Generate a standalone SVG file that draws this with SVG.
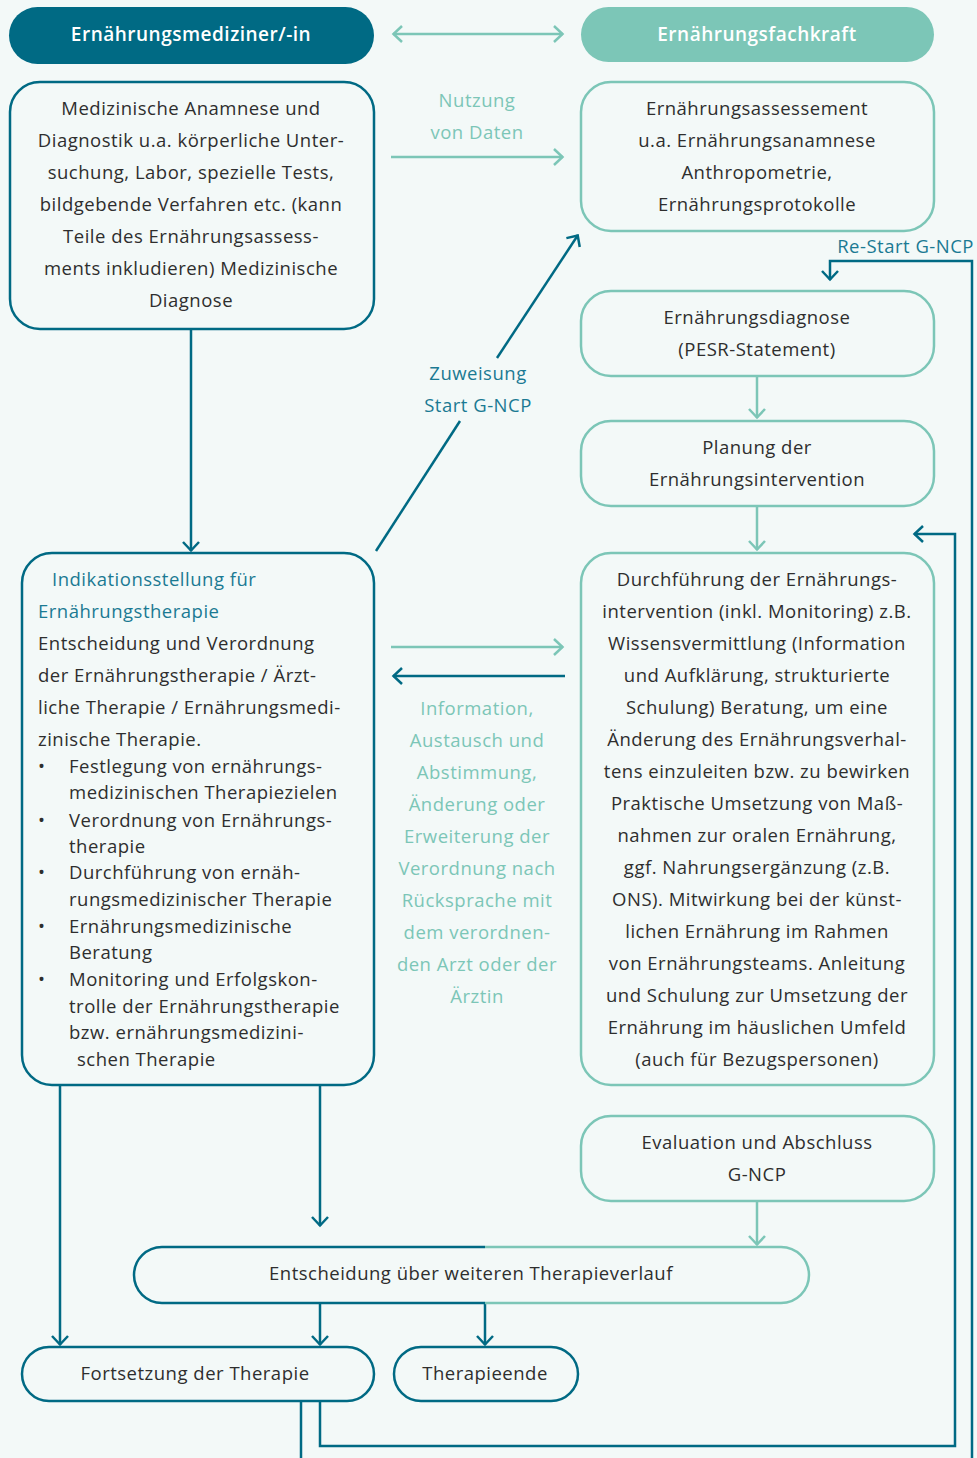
<svg xmlns="http://www.w3.org/2000/svg" width="977" height="1458" viewBox="0 0 977 1458">
<defs>
<style>
text{font-family:"Open Sans","Liberation Sans",sans-serif;font-size:18.5px;fill:#2e2e2e;letter-spacing:0.5px}
.c{text-anchor:middle}
.hd{fill:#ffffff;font-weight:600;font-size:19px}
.lt{fill:#7cc6b7}
.dk{fill:#1b7a93}
.bd{fill:none;stroke:#006a84;stroke-width:2.5}
.bl{fill:none;stroke:#7cc6b7;stroke-width:2.5}
.ld{fill:none;stroke:#006a84;stroke-width:2.5}
.ll{fill:none;stroke:#7cc6b7;stroke-width:2.5}
</style>
<marker id="ad" markerUnits="userSpaceOnUse" markerWidth="14" markerHeight="20" refX="11" refY="10" orient="auto-start-reverse">
<path d="M2,2 L10.5,10 L2,18" fill="none" stroke="#006a84" stroke-width="2.5"/>
</marker>
<marker id="al" markerUnits="userSpaceOnUse" markerWidth="14" markerHeight="20" refX="11" refY="10" orient="auto-start-reverse">
<path d="M2,2 L10.5,10 L2,18" fill="none" stroke="#7cc6b7" stroke-width="2.5"/>
</marker>
</defs>
<rect width="977" height="1458" fill="#f3f9f8"/>

<g id="connectors">
<line class="ll" x1="393" y1="34" x2="563" y2="34" marker-start="url(#al)" marker-end="url(#al)"/>
<line class="ll" x1="391" y1="157" x2="563" y2="157" marker-end="url(#al)"/>
<line class="ld" x1="191" y1="329" x2="191" y2="551" marker-end="url(#ad)"/>
<line class="ld" x1="376" y1="551" x2="460" y2="421"/>
<line class="ld" x1="497" y1="358" x2="578" y2="235" marker-end="url(#ad)"/>
<polyline class="ld" points="972,1458 972,261 830,261 830,280" marker-end="url(#ad)"/>
<line class="ll" x1="757" y1="376" x2="757" y2="418" marker-end="url(#al)"/>
<line class="ll" x1="757" y1="506" x2="757" y2="550" marker-end="url(#al)"/>
<line class="ll" x1="391" y1="647" x2="563" y2="647" marker-end="url(#al)"/>
<line class="ld" x1="565" y1="676" x2="393" y2="676" marker-end="url(#ad)"/>
<line class="ll" x1="757" y1="1201" x2="757" y2="1245" marker-end="url(#al)"/>
<line class="ld" x1="320" y1="1085" x2="320" y2="1226" marker-end="url(#ad)"/>
<line class="ld" x1="60" y1="1085" x2="60" y2="1345" marker-end="url(#ad)"/>
<line class="ld" x1="320" y1="1303" x2="320" y2="1345" marker-end="url(#ad)"/>
<line class="ld" x1="485" y1="1303" x2="485" y2="1345" marker-end="url(#ad)"/>
<line class="ld" x1="301" y1="1401" x2="301" y2="1458"/>
<polyline class="ld" points="320,1401 320,1446 955,1446 955,534 914,534" marker-end="url(#ad)"/>
</g>

<g id="hdr-left">
<rect x="9" y="7" width="365" height="57" rx="28.5" fill="#006a84"/>
<text class="c hd" x="191" y="41">Ernährungsmediziner/-in</text>
</g>
<g id="hdr-right">
<rect x="581" y="7" width="353" height="55" rx="27.5" fill="#7cc6b7"/>
<text class="c hd" x="757" y="40.5">Ernährungsfachkraft</text>
</g>

<g id="n-anamnese">
<rect class="bd" x="10" y="82" width="364" height="247" rx="30"/>
<text class="c" x="191" y="114.5">Medizinische Anamnese und</text>
<text class="c" x="191" y="146.5">Diagnostik u.a. körperliche Unter-</text>
<text class="c" x="191" y="178.5">suchung, Labor, spezielle Tests,</text>
<text class="c" x="191" y="210.5">bildgebende Verfahren etc. (kann</text>
<text class="c" x="191" y="242.5">Teile des Ernährungsassess-</text>
<text class="c" x="191" y="274.5">ments inkludieren) Medizinische</text>
<text class="c" x="191" y="306.5">Diagnose</text>
</g>

<g id="lbl-nutzung">
<text class="c lt" x="477" y="106.5">Nutzung</text>
<text class="c lt" x="477" y="138.5">von Daten</text>
</g>

<g id="n-assessment">
<rect class="bl" x="581" y="82" width="353" height="149" rx="30"/>
<text class="c" x="757" y="114.5">Ernährungsassessement</text>
<text class="c" x="757" y="146.5">u.a. Ernährungsanamnese</text>
<text class="c" x="757" y="178.5">Anthropometrie,</text>
<text class="c" x="757" y="210.5">Ernährungsprotokolle</text>
</g>

<g id="lbl-restart">
<text class="dk" x="974" y="252.5" text-anchor="end">Re-Start G-NCP</text>
</g>

<g id="lbl-zuweisung">
<text class="c dk" x="478" y="379.5">Zuweisung</text>
<text class="c dk" x="478" y="411.5">Start G-NCP</text>
</g>

<g id="n-diagnose">
<rect class="bl" x="581" y="291" width="353" height="85" rx="30"/>
<text class="c" x="757" y="323.5">Ernährungsdiagnose</text>
<text class="c" x="757" y="355.5">(PESR-Statement)</text>
</g>

<g id="n-planung">
<rect class="bl" x="581" y="421" width="353" height="85" rx="30"/>
<text class="c" x="757" y="453.5">Planung der</text>
<text class="c" x="757" y="485.5">Ernährungsintervention</text>
</g>

<g id="n-indikation">
<rect class="bd" x="22" y="553" width="352" height="532" rx="30"/>
<text class="dk" x="52" y="585.5">Indikationsstellung für</text>
<text class="dk" x="38" y="617.5">Ernährungstherapie</text>
<text x="38" y="649.5">Entscheidung und Verordnung</text>
<text x="38" y="681.5">der Ernährungstherapie / Ärzt-</text>
<text x="38" y="713.5">liche Therapie / Ernährungsmedi-</text>
<text x="38" y="745.5">zinische Therapie.</text>
<text x="38" y="772.5">•</text>
<text x="69" y="772.5">Festlegung von ernährungs-</text>
<text x="69" y="798.5">medizinischen Therapiezielen</text>
<text x="38" y="826.5">•</text>
<text x="69" y="826.5">Verordnung von Ernährungs-</text>
<text x="69" y="852.5">therapie</text>
<text x="38" y="878.5">•</text>
<text x="69" y="878.5">Durchführung von ernäh-</text>
<text x="69" y="905.5">rungsmedizinischer Therapie</text>
<text x="38" y="932.5">•</text>
<text x="69" y="932.5">Ernährungsmedizinische</text>
<text x="69" y="958.5">Beratung</text>
<text x="38" y="985.5">•</text>
<text x="69" y="985.5">Monitoring und Erfolgskon-</text>
<text x="69" y="1012.5">trolle der Ernährungstherapie</text>
<text x="69" y="1038.5">bzw. ernährungsmedizini-</text>
<text x="77" y="1065.5">schen Therapie</text>
</g>

<g id="lbl-information">
<text class="c lt" x="477" y="714.5">Information,</text>
<text class="c lt" x="477" y="746.5">Austausch und</text>
<text class="c lt" x="477" y="778.5">Abstimmung,</text>
<text class="c lt" x="477" y="810.5">Änderung oder</text>
<text class="c lt" x="477" y="842.5">Erweiterung der</text>
<text class="c lt" x="477" y="874.5">Verordnung nach</text>
<text class="c lt" x="477" y="906.5">Rücksprache mit</text>
<text class="c lt" x="477" y="938.5">dem verordnen-</text>
<text class="c lt" x="477" y="970.5">den Arzt oder der</text>
<text class="c lt" x="477" y="1002.5">Ärztin</text>
</g>

<g id="n-durchfuehrung">
<rect class="bl" x="581" y="553" width="353" height="532" rx="30"/>
<text class="c" x="757" y="585.5">Durchführung der Ernährungs-</text>
<text class="c" x="757" y="617.5">intervention (inkl. Monitoring) z.B.</text>
<text class="c" x="757" y="649.5">Wissensvermittlung (Information</text>
<text class="c" x="757" y="681.5">und Aufklärung, strukturierte</text>
<text class="c" x="757" y="713.5">Schulung) Beratung, um eine</text>
<text class="c" x="757" y="745.5">Änderung des Ernährungsverhal-</text>
<text class="c" x="757" y="777.5">tens einzuleiten bzw. zu bewirken</text>
<text class="c" x="757" y="809.5">Praktische Umsetzung von Maß-</text>
<text class="c" x="757" y="841.5">nahmen zur oralen Ernährung,</text>
<text class="c" x="757" y="873.5">ggf. Nahrungsergänzung (z.B.</text>
<text class="c" x="757" y="905.5">ONS). Mitwirkung bei der künst-</text>
<text class="c" x="757" y="937.5">lichen Ernährung im Rahmen</text>
<text class="c" x="757" y="969.5">von Ernährungsteams. Anleitung</text>
<text class="c" x="757" y="1001.5">und Schulung zur Umsetzung der</text>
<text class="c" x="757" y="1033.5">Ernährung im häuslichen Umfeld</text>
<text class="c" x="757" y="1065.5">(auch für Bezugspersonen)</text>
</g>

<g id="n-evaluation">
<rect class="bl" x="581" y="1116" width="353" height="85" rx="30"/>
<text class="c" x="757" y="1148.5">Evaluation und Abschluss</text>
<text class="c" x="757" y="1180.5">G-NCP</text>
</g>

<g id="n-entscheidung">
<path class="bd" d="M485,1247 L162,1247 A28,28 0 0 0 134,1275 A28,28 0 0 0 162,1303 L485,1303"/>
<path class="bl" d="M485,1247 L781,1247 A28,28 0 0 1 809,1275 A28,28 0 0 1 781,1303 L485,1303"/>
<text class="c" x="471" y="1279.5">Entscheidung über weiteren Therapieverlauf</text>
</g>

<g id="n-fortsetzung">
<rect class="bd" x="22" y="1347" width="352" height="54" rx="27"/>
<text class="c" x="195" y="1379.5">Fortsetzung der Therapie</text>
</g>

<g id="n-therapieende">
<rect class="bd" x="394" y="1347" width="184" height="54" rx="27"/>
<text class="c" x="485" y="1379.5">Therapieende</text>
</g>
</svg>
